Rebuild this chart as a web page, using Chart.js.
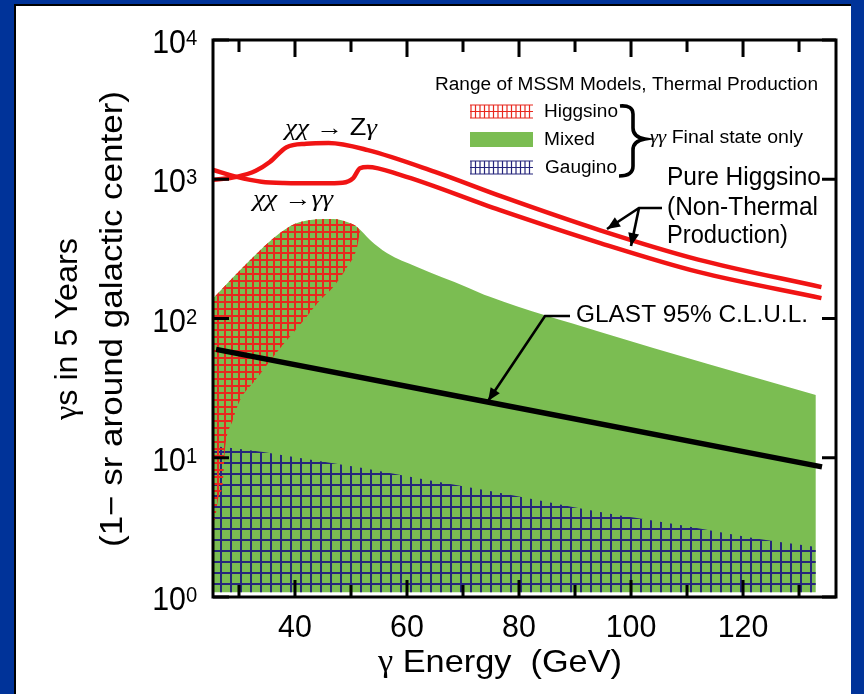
<!DOCTYPE html>
<html>
<head>
<meta charset="utf-8">
<script src="https://cdn.jsdelivr.net/npm/chart.js@4.4.1/dist/chart.umd.min.js"></script>
<style>
  html, body { margin: 0; padding: 0; background: #003399; overflow: hidden; }
  canvas { display: block; }
</style>
</head>
<body>
<canvas id="c" width="864" height="694"></canvas>
<script>
// --- data (energy in GeV, counts of photons) ---
const zgE = [25.4, 29.6, 33, 35.5, 38.5, 42, 46, 53, 65, 77, 94.5, 112, 134];
const zgN = [990, 1040, 1150, 1330, 1700, 1800, 1820, 1620, 1130, 750, 430, 265, 168];

const ggE = [25.4, 29.6, 34, 38, 45, 48.5, 50.4, 51.6, 53, 58.8, 76.6, 94.5, 112, 134];
const ggN = [1165, 1040, 960, 940, 935, 945, 1020, 1200, 1225, 1075, 600, 348, 216, 140];

const glastE = [25.9, 134.1];
const glastN = [60, 8.6];

// Mixed models, upper edge
const mixE = [25.4, 32, 37.3, 40.9, 46.8, 49.8, 51.1, 53.4, 56.4, 61.8, 70.7, 74.8, 94.5, 133];
const mixN = [140, 263, 411, 493, 518, 485, 454, 366, 295, 234, 168, 143, 80, 28.2];

// Higgsino models, upper and lower edges
const higUpE = [25.4, 32, 37.3, 40.9, 46.8, 49.8, 51.1, 51.6];
const higUpN = [140, 263, 411, 493, 518, 485, 454, 425];
const higLoE = [25.4, 25.7, 26.25, 27.1, 27.5, 28.9, 30.2, 32.9, 36.4, 40.9, 44.5, 46.8, 49.3, 51.1, 51.6];
const higLoN = [3.3, 3.6, 5.0, 6.6, 11.4, 18.7, 26, 36, 55, 90, 136, 168, 234, 326, 425];

// Gaugino models, upper edge
const gauE = [25.4, 27.5, 34.3, 40.9, 52.1, 62.7, 74.8, 94.5, 108.75, 120.7, 133];
const gauN = [12.1, 11.9, 11.0, 9.96, 8.44, 7.03, 5.77, 4.08, 3.29, 2.70, 2.29];

const floorN = 1.08;

const xTicks = [30, 40, 50, 60, 70, 80, 90, 100, 110, 120, 130];
const xLabels = [40, 60, 80, 100, 120];
const yTicks = [1, 10, 100, 1000, 10000];
const yExp = ['0', '1', '2', '3', '4'];

const SANS = '"Liberation Sans", Arial, Helvetica, sans-serif';
const SERIF = '"Liberation Serif", "DejaVu Serif", "Times New Roman", serif';
const GREEN = '#7bbd52';
const RED = '#f01414';

const pts = (e, n) => e.map((v, i) => ({ x: v, y: n[i] }));

const canvas = document.getElementById('c');
const ctx0 = canvas.getContext('2d');

function hatch(w, h, color, lw) {
  const c = document.createElement('canvas');
  c.width = w; c.height = h;
  const g = c.getContext('2d');
  g.fillStyle = color;
  g.fillRect(0, 0, w, lw);
  g.fillRect(0, 0, lw, h);
  return ctx0.createPattern(c, 'repeat');
}
const redHatch = hatch(7, 7, '#e8281e', 2);
const blueHatch = hatch(10, 11, '#26267c', 2);

// draw a row of text runs; opt.w squeezes/stretches to a width
function txt(ctx, runs, x, y, opt = {}) {
  ctx.save();
  let w = 0;
  runs.forEach(r => { ctx.font = r[1]; w += ctx.measureText(r[0]).width; });
  const sx = opt.w ? opt.w / w : (opt.sx || 1);
  ctx.translate(x, y);
  if (opt.rot) ctx.rotate(opt.rot);
  let x0 = 0;
  if (opt.align === 'center') x0 = -w * sx / 2;
  else if (opt.align === 'right') x0 = -w * sx;
  ctx.translate(x0, 0);
  ctx.scale(sx, 1);
  ctx.textBaseline = 'middle';
  ctx.textAlign = 'left';
  ctx.fillStyle = '#000';
  let cx = 0;
  runs.forEach(r => { ctx.font = r[1]; ctx.fillText(r[0], cx, 0); cx += ctx.measureText(r[0]).width; });
  ctx.restore();
}

function arrow(ctx, p) {
  ctx.beginPath();
  ctx.moveTo(p[0][0], p[0][1]);
  for (let i = 1; i < p.length; i++) ctx.lineTo(p[i][0], p[i][1]);
  ctx.stroke();
  const [x1, y1] = p[p.length - 2], [x2, y2] = p[p.length - 1];
  const a = Math.atan2(y2 - y1, x2 - x1), L = 13, W = 5.5;
  ctx.beginPath();
  ctx.moveTo(x2, y2);
  ctx.lineTo(x2 - L * Math.cos(a) + W * Math.sin(a), y2 - L * Math.sin(a) - W * Math.cos(a));
  ctx.lineTo(x2 - L * Math.cos(a) - W * Math.sin(a), y2 - L * Math.sin(a) + W * Math.cos(a));
  ctx.closePath();
  ctx.fill();
}

const frame = {
  id: 'frame',
  beforeDraw(chart) {
    const c = chart.ctx;
    c.save();
    c.fillStyle = '#003399';
    c.fillRect(0, 0, 864, 694);
    c.fillStyle = '#000';
    c.fillRect(14, 4, 837, 690);
    c.fillStyle = '#fff';
    c.fillRect(16, 6, 835, 688);
    c.restore();
  },
  afterDraw(chart) {
    const c = chart.ctx, a = chart.chartArea;
    const xs = chart.scales.x, ys = chart.scales.y;
    c.save();
    c.strokeStyle = '#000';
    c.fillStyle = '#000';
    c.lineWidth = 3;
    c.lineCap = 'butt';
    c.strokeRect(a.left, a.top, a.right - a.left, a.bottom - a.top);

    // inward ticks
    xTicks.forEach(v => {
      const px = xs.getPixelForValue(v);
      const len = xLabels.includes(v) ? 17 : 12;
      c.beginPath();
      c.moveTo(px, a.bottom); c.lineTo(px, a.bottom - len);
      c.moveTo(px, a.top); c.lineTo(px, a.top + len);
      c.stroke();
    });
    yTicks.forEach(v => {
      const py = ys.getPixelForValue(v);
      c.beginPath();
      c.moveTo(a.left, py); c.lineTo(a.left + 16, py);
      c.moveTo(a.right, py); c.lineTo(a.right - 14, py);
      c.stroke();
    });

    // tick labels
    xLabels.forEach(v => {
      txt(c, [[String(v), '32px ' + SANS]], xs.getPixelForValue(v), a.bottom + 31, { align: 'center', sx: 0.95 });
    });
    yTicks.forEach((v, i) => {
      const py = ys.getPixelForValue(v);
      txt(c, [['10', '33px ' + SANS]], a.left - 27, py + 4, { align: 'right', sx: 0.92 });
      txt(c, [[yExp[i], '22px ' + SANS]], a.left - 27, py - 1, { sx: 0.92 });
    });

    // axis titles
    txt(c, [['γ', '32px ' + SERIF], [' Energy  (GeV)', '32px ' + SANS]], 500, 663, { align: 'center', w: 244 });
    txt(c, [['γ', '32px ' + SERIF], ['s in 5 Years', '32px ' + SANS]], 68, 329, { align: 'center', w: 182, rot: -Math.PI / 2 });
    txt(c, [['(1− sr around galactic center)', '32px ' + SANS]], 113, 319, { align: 'center', w: 456, rot: -Math.PI / 2 });

    // curve labels
    txt(c, [['χχ → ', 'italic 23px ' + SERIF], ['Z', '23px ' + SANS], ['γ', 'italic 23px ' + SERIF]], 285, 129, { w: 92 });
    txt(c, [['χχ →γγ', 'italic 23px ' + SERIF]], 253, 200, { w: 80 });

    // legend
    txt(c, [['Range of MSSM Models, Thermal Production', '18px ' + SANS]], 435, 85, { w: 383 });
    txt(c, [['Higgsino', '18px ' + SANS]], 544, 112, { w: 74 });
    txt(c, [['Mixed', '18px ' + SANS]], 544, 140, { w: 51 });
    txt(c, [['Gaugino', '18px ' + SANS]], 545, 168, { w: 72 });

    c.lineWidth = 1.2;
    [['#e8281e', 105], ['#26267c', 161]].forEach(([col, y0]) => {
      c.strokeStyle = col;
      c.beginPath();
      [y0, y0 + 6.5, y0 + 13].forEach(yy => { c.moveTo(470, yy); c.lineTo(533, yy); });
      for (let xx = 471; xx <= 533; xx += 4.5) { c.moveTo(xx, y0); c.lineTo(xx, y0 + 13); }
      c.stroke();
    });
    c.fillStyle = GREEN;
    c.fillRect(470, 132, 63, 15);

    // brace
    c.strokeStyle = '#000';
    c.fillStyle = '#000';
    c.lineWidth = 3.6;
    c.beginPath();
    c.moveTo(620, 106);
    c.quadraticCurveTo(633, 105, 633, 114);
    c.lineTo(633, 128);
    c.quadraticCurveTo(633, 137, 645, 139);
    c.quadraticCurveTo(633, 141, 633, 150);
    c.lineTo(633, 166);
    c.quadraticCurveTo(633, 176, 619, 176);
    c.stroke();
    txt(c, [['γγ', 'italic 19px ' + SERIF], [' Final state only', '18px ' + SANS]], 650, 138, { w: 153 });

    // Pure Higgsino note
    txt(c, [['Pure Higgsino', '25px ' + SANS]], 667, 178, { w: 154 });
    txt(c, [['(Non-Thermal', '25px ' + SANS]], 667, 208, { w: 151 });
    txt(c, [['Production)', '25px ' + SANS]], 667, 236, { w: 121 });
    c.lineWidth = 2.6;
    arrow(c, [[662, 208], [639, 208], [607, 229]]);
    arrow(c, [[639, 208], [631, 246]]);

    // GLAST note
    txt(c, [['GLAST 95% C.L.U.L.', '23px ' + SANS]], 576, 316, { w: 232 });
    arrow(c, [[570, 316], [545, 316], [488, 401]]);
    c.restore();
  }
};

const line = (e, n, color, w) => ({
  data: pts(e, n), borderColor: color, borderWidth: w, pointRadius: 0,
  fill: false, cubicInterpolationMode: 'monotone'
});
const edge = (e, n, fill, bg) => ({
  data: pts(e, n), borderWidth: 0, borderColor: 'rgba(0,0,0,0)', pointRadius: 0,
  fill: fill, backgroundColor: bg, cubicInterpolationMode: 'monotone'
});

new Chart(canvas, {
  type: 'line',
  data: {
    datasets: [
      line(zgE, zgN, RED, 4.5),
      line(ggE, ggN, RED, 4.5),
      line(glastE, glastN, '#000', 5.5),
      edge(higUpE, higUpN, '+1', redHatch),
      edge(higLoE, higLoN, false, 'rgba(0,0,0,0)'),
      edge(gauE, gauN, { value: floorN }, blueHatch),
      edge(mixE, mixN, { value: floorN }, GREEN)
    ]
  },
  options: {
    responsive: false,
    devicePixelRatio: 1,
    animation: false,
    events: [],
    layout: { padding: { left: 213, right: 28, top: 40, bottom: 97 } },
    plugins: { legend: { display: false }, tooltip: { enabled: false } },
    scales: {
      x: { type: 'linear', min: 25.36, max: 136.6, display: false },
      y: { type: 'logarithmic', min: 1, max: 10000, display: false }
    }
  },
  plugins: [frame]
});
</script>
</body>
</html>
